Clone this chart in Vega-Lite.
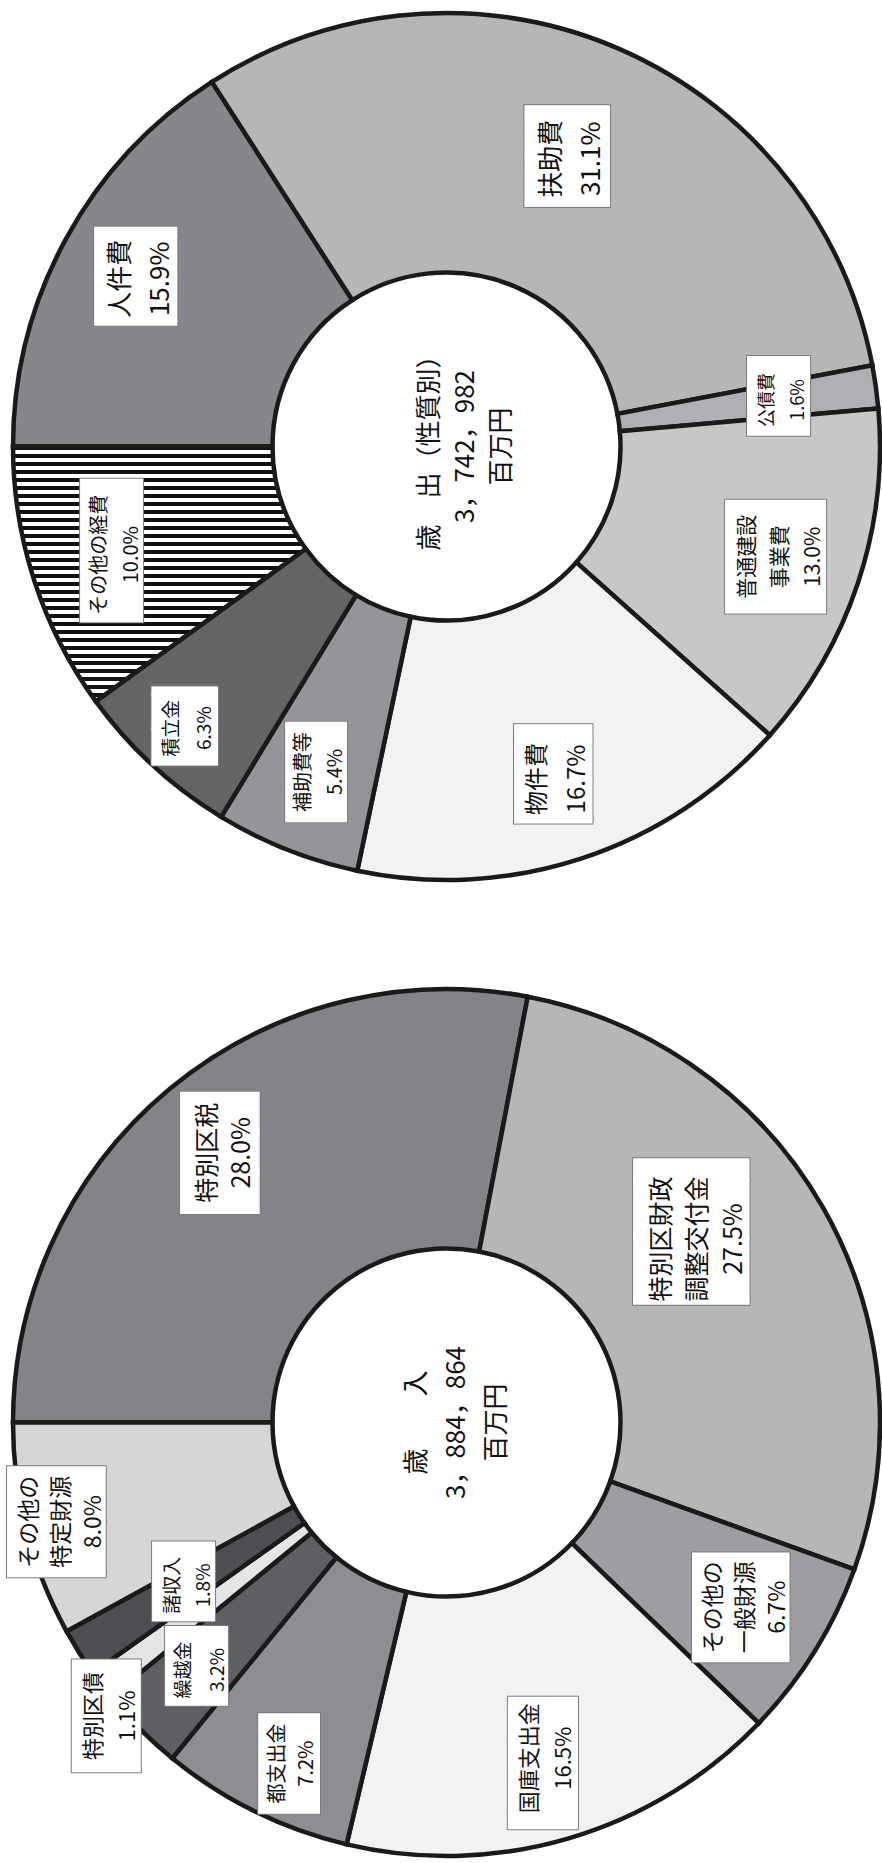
{
  "$schema": "https://vega.github.io/schema/vega-lite/v6.json",
  "padding": {"left": 3.5, "top": 3.5, "right": 0, "bottom": 0},
  "spacing": 104,
  "bounds": "flush",
  "config": {"view": {"stroke": null}},
  "resolve": {"scale": {"fill": "independent", "theta": "independent"}},
  "vconcat": [
    {
      "width": 872,
      "height": 872,
      "data": {"values": [
        {"n": 1, "item": "人件費", "pct": 15.9, "label": "人件費\n15.9%"},
        {"n": 2, "item": "扶助費", "pct": 31.1, "label": "扶助費\n31.1%"},
        {"n": 3, "item": "公債費", "pct": 1.6, "label": "公債費\n1.6%"},
        {"n": 4, "item": "普通建設事業費", "pct": 13.0, "label": "普通建設\n事業費\n13.0%"},
        {"n": 5, "item": "物件費", "pct": 16.7, "label": "物件費\n16.7%"},
        {"n": 6, "item": "補助費等", "pct": 5.4, "label": "補助費等\n5.4%"},
        {"n": 7, "item": "積立金", "pct": 6.3, "label": "積立金\n6.3%"},
        {"n": 8, "item": "その他の経費", "pct": 10.0, "label": "その他の経費\n10.0%"}
      ]},
      "layer": [
        {
          "encoding": {
            "theta": {"field": "pct", "type": "quantitative", "stack": true, "scale": {"range": [4.71238898, 10.99557429]}},
            "order": {"field": "n", "type": "quantitative"},
            "detail": {"field": "item", "type": "nominal"}
          },
          "layer": [
            {
              "mark": {"type": "arc", "radius": 433.5, "innerRadius": 174, "stroke": "#1a1a1a", "strokeWidth": 4.5},
              "encoding": {
                "fill": {
                  "condition": {"test": "datum.item === 'その他の経費'", "value": {"gradient": "linear", "x1": 0, "y1": 0, "x2": 0, "y2": 1, "stops": [
                    {"offset": 0, "color": "#111111"}, {"offset": 0.015625, "color": "#111111"}, {"offset": 0.015625, "color": "#ffffff"}, {"offset": 0.03125, "color": "#ffffff"},
                    {"offset": 0.03125, "color": "#111111"}, {"offset": 0.046875, "color": "#111111"}, {"offset": 0.046875, "color": "#ffffff"}, {"offset": 0.0625, "color": "#ffffff"},
                    {"offset": 0.0625, "color": "#111111"}, {"offset": 0.078125, "color": "#111111"}, {"offset": 0.078125, "color": "#ffffff"}, {"offset": 0.09375, "color": "#ffffff"},
                    {"offset": 0.09375, "color": "#111111"}, {"offset": 0.109375, "color": "#111111"}, {"offset": 0.109375, "color": "#ffffff"}, {"offset": 0.125, "color": "#ffffff"},
                    {"offset": 0.125, "color": "#111111"}, {"offset": 0.140625, "color": "#111111"}, {"offset": 0.140625, "color": "#ffffff"}, {"offset": 0.15625, "color": "#ffffff"},
                    {"offset": 0.15625, "color": "#111111"}, {"offset": 0.171875, "color": "#111111"}, {"offset": 0.171875, "color": "#ffffff"}, {"offset": 0.1875, "color": "#ffffff"},
                    {"offset": 0.1875, "color": "#111111"}, {"offset": 0.203125, "color": "#111111"}, {"offset": 0.203125, "color": "#ffffff"}, {"offset": 0.21875, "color": "#ffffff"},
                    {"offset": 0.21875, "color": "#111111"}, {"offset": 0.234375, "color": "#111111"}, {"offset": 0.234375, "color": "#ffffff"}, {"offset": 0.25, "color": "#ffffff"},
                    {"offset": 0.25, "color": "#111111"}, {"offset": 0.265625, "color": "#111111"}, {"offset": 0.265625, "color": "#ffffff"}, {"offset": 0.28125, "color": "#ffffff"},
                    {"offset": 0.28125, "color": "#111111"}, {"offset": 0.296875, "color": "#111111"}, {"offset": 0.296875, "color": "#ffffff"}, {"offset": 0.3125, "color": "#ffffff"},
                    {"offset": 0.3125, "color": "#111111"}, {"offset": 0.328125, "color": "#111111"}, {"offset": 0.328125, "color": "#ffffff"}, {"offset": 0.34375, "color": "#ffffff"},
                    {"offset": 0.34375, "color": "#111111"}, {"offset": 0.359375, "color": "#111111"}, {"offset": 0.359375, "color": "#ffffff"}, {"offset": 0.375, "color": "#ffffff"},
                    {"offset": 0.375, "color": "#111111"}, {"offset": 0.390625, "color": "#111111"}, {"offset": 0.390625, "color": "#ffffff"}, {"offset": 0.40625, "color": "#ffffff"},
                    {"offset": 0.40625, "color": "#111111"}, {"offset": 0.421875, "color": "#111111"}, {"offset": 0.421875, "color": "#ffffff"}, {"offset": 0.4375, "color": "#ffffff"},
                    {"offset": 0.4375, "color": "#111111"}, {"offset": 0.453125, "color": "#111111"}, {"offset": 0.453125, "color": "#ffffff"}, {"offset": 0.46875, "color": "#ffffff"},
                    {"offset": 0.46875, "color": "#111111"}, {"offset": 0.484375, "color": "#111111"}, {"offset": 0.484375, "color": "#ffffff"}, {"offset": 0.5, "color": "#ffffff"},
                    {"offset": 0.5, "color": "#111111"}, {"offset": 0.515625, "color": "#111111"}, {"offset": 0.515625, "color": "#ffffff"}, {"offset": 0.53125, "color": "#ffffff"},
                    {"offset": 0.53125, "color": "#111111"}, {"offset": 0.546875, "color": "#111111"}, {"offset": 0.546875, "color": "#ffffff"}, {"offset": 0.5625, "color": "#ffffff"},
                    {"offset": 0.5625, "color": "#111111"}, {"offset": 0.578125, "color": "#111111"}, {"offset": 0.578125, "color": "#ffffff"}, {"offset": 0.59375, "color": "#ffffff"},
                    {"offset": 0.59375, "color": "#111111"}, {"offset": 0.609375, "color": "#111111"}, {"offset": 0.609375, "color": "#ffffff"}, {"offset": 0.625, "color": "#ffffff"},
                    {"offset": 0.625, "color": "#111111"}, {"offset": 0.640625, "color": "#111111"}, {"offset": 0.640625, "color": "#ffffff"}, {"offset": 0.65625, "color": "#ffffff"},
                    {"offset": 0.65625, "color": "#111111"}, {"offset": 0.671875, "color": "#111111"}, {"offset": 0.671875, "color": "#ffffff"}, {"offset": 0.6875, "color": "#ffffff"},
                    {"offset": 0.6875, "color": "#111111"}, {"offset": 0.703125, "color": "#111111"}, {"offset": 0.703125, "color": "#ffffff"}, {"offset": 0.71875, "color": "#ffffff"},
                    {"offset": 0.71875, "color": "#111111"}, {"offset": 0.734375, "color": "#111111"}, {"offset": 0.734375, "color": "#ffffff"}, {"offset": 0.75, "color": "#ffffff"},
                    {"offset": 0.75, "color": "#111111"}, {"offset": 0.765625, "color": "#111111"}, {"offset": 0.765625, "color": "#ffffff"}, {"offset": 0.78125, "color": "#ffffff"},
                    {"offset": 0.78125, "color": "#111111"}, {"offset": 0.796875, "color": "#111111"}, {"offset": 0.796875, "color": "#ffffff"}, {"offset": 0.8125, "color": "#ffffff"},
                    {"offset": 0.8125, "color": "#111111"}, {"offset": 0.828125, "color": "#111111"}, {"offset": 0.828125, "color": "#ffffff"}, {"offset": 0.84375, "color": "#ffffff"},
                    {"offset": 0.84375, "color": "#111111"}, {"offset": 0.859375, "color": "#111111"}, {"offset": 0.859375, "color": "#ffffff"}, {"offset": 0.875, "color": "#ffffff"},
                    {"offset": 0.875, "color": "#111111"}, {"offset": 0.890625, "color": "#111111"}, {"offset": 0.890625, "color": "#ffffff"}, {"offset": 0.90625, "color": "#ffffff"},
                    {"offset": 0.90625, "color": "#111111"}, {"offset": 0.921875, "color": "#111111"}, {"offset": 0.921875, "color": "#ffffff"}, {"offset": 0.9375, "color": "#ffffff"},
                    {"offset": 0.9375, "color": "#111111"}, {"offset": 0.953125, "color": "#111111"}, {"offset": 0.953125, "color": "#ffffff"}, {"offset": 0.96875, "color": "#ffffff"},
                    {"offset": 0.96875, "color": "#111111"}, {"offset": 0.984375, "color": "#111111"}, {"offset": 0.984375, "color": "#ffffff"}, {"offset": 1, "color": "#ffffff"}
                  ]}},
                  "field": "item", "type": "nominal", "legend": null,
                  "scale": {
                    "domain": ["人件費", "扶助費", "公債費", "普通建設事業費", "物件費", "補助費等", "積立金", "その他の経費"],
                    "range": ["#85878a", "#b6b6b6", "#aeb0b3", "#c6c7c9", "#f2f2f2", "#939598", "#646567", "#888888"]
                  }
                }
              }
            },
            {
              "mark": {"type": "text", "font": "DejaVu Sans Mono", "radius": 313, "angle": 270, "align": "center", "baseline": "middle", "fill": "#7a7a7a", "stroke": "#7a7a7a", "strokeWidth": 2},
              "encoding": {"text": {"condition": {"test": "datum.item === '扶助費'", "value": "▕██▎"}, "value": ""}, "size": {"condition": {"test": "datum.item === '扶助費'", "value": 72}, "value": 0}}
            },
            {
              "mark": {"type": "text", "font": "DejaVu Sans Mono", "radius": 313, "angle": 270, "align": "center", "baseline": "middle", "fill": "#ffffff"},
              "encoding": {"text": {"condition": {"test": "datum.item === '扶助費'", "value": "▕██▎"}, "value": ""}, "size": {"condition": {"test": "datum.item === '扶助費'", "value": 72}, "value": 0}}
            },
            {
              "mark": {"type": "text", "font": "Noto Sans CJK JP", "radius": 313, "angle": 270, "align": "center", "baseline": "middle", "lineBreak": "\n", "lineHeight": 40, "dy": -18, "fill": "#111111"},
              "encoding": {"text": {"condition": {"test": "datum.item === '扶助費'", "field": "label", "type": "nominal"}, "value": ""}, "size": {"condition": {"test": "datum.item === '扶助費'", "value": 26}, "value": 0}}
            },
            {
              "mark": {"type": "text", "font": "DejaVu Sans Mono", "radius": 350, "angle": 270, "align": "center", "baseline": "middle", "fill": "#7a7a7a", "stroke": "#7a7a7a", "strokeWidth": 2},
              "encoding": {
                "text": {"condition": [
                  {"test": "datum.item === '人件費'", "value": "▕██▎"},
                  {"test": "datum.item === '普通建設事業費'", "value": "▕██▏"},
                  {"test": "datum.item === '物件費'", "value": "▕██▍"},
                  {"test": "datum.item === '補助費等'", "value": "▕███▏"},
                  {"test": "datum.item === 'その他の経費'", "value": "▕████▍"}
                ], "value": ""},
                "size": {"condition": [
                  {"test": "datum.item === '人件費'", "value": 70},
                  {"test": "datum.item === '普通建設事業費'", "value": 85},
                  {"test": "datum.item === '物件費'", "value": 66},
                  {"test": "datum.item === '補助費等'", "value": 52},
                  {"test": "datum.item === 'その他の経費'", "value": 53}
                ], "value": 0}
              }
            },
            {
              "mark": {"type": "text", "font": "DejaVu Sans Mono", "radius": 350, "angle": 270, "align": "center", "baseline": "middle", "fill": "#ffffff"},
              "encoding": {
                "text": {"condition": [
                  {"test": "datum.item === '人件費'", "value": "▕██▎"},
                  {"test": "datum.item === '普通建設事業費'", "value": "▕██▏"},
                  {"test": "datum.item === '物件費'", "value": "▕██▍"},
                  {"test": "datum.item === '補助費等'", "value": "▕███▏"},
                  {"test": "datum.item === 'その他の経費'", "value": "▕████▍"}
                ], "value": ""},
                "size": {"condition": [
                  {"test": "datum.item === '人件費'", "value": 70},
                  {"test": "datum.item === '普通建設事業費'", "value": 85},
                  {"test": "datum.item === '物件費'", "value": 66},
                  {"test": "datum.item === '補助費等'", "value": 52},
                  {"test": "datum.item === 'その他の経費'", "value": 53}
                ], "value": 0}
              }
            },
            {
              "mark": {"type": "text", "font": "Noto Sans CJK JP", "radius": 350, "angle": 270, "align": "center", "baseline": "middle", "lineBreak": "\n", "lineHeight": 40, "dy": -18, "fill": "#111111"},
              "encoding": {
                "text": {"condition": {"test": "indexof(['人件費', '物件費'], datum.item) >= 0", "field": "label", "type": "nominal"}, "value": ""},
                "size": {"condition": [
                  {"test": "datum.item === '人件費'", "value": 26},
                  {"test": "datum.item === '物件費'", "value": 24}
                ], "value": 0}
              }
            },
            {
              "mark": {"type": "text", "font": "Noto Sans CJK JP", "radius": 350, "angle": 270, "align": "center", "baseline": "middle", "lineBreak": "\n", "lineHeight": 32, "dy": -14, "fill": "#111111"},
              "encoding": {
                "text": {"condition": {"test": "indexof(['補助費等', 'その他の経費'], datum.item) >= 0", "field": "label", "type": "nominal"}, "value": ""},
                "size": {"condition": [
                  {"test": "datum.item === '補助費等'", "value": 20},
                  {"test": "datum.item === 'その他の経費'", "value": 20}
                ], "value": 0}
              }
            },
            {
              "mark": {"type": "text", "font": "Noto Sans CJK JP", "radius": 350, "angle": 270, "align": "center", "baseline": "middle", "lineBreak": "\n", "lineHeight": 33, "dy": -31, "fill": "#111111"},
              "encoding": {
                "text": {"condition": {"test": "datum.item === '普通建設事業費'", "field": "label", "type": "nominal"}, "value": ""},
                "size": {"condition": {"test": "datum.item === '普通建設事業費'", "value": 21}, "value": 0}
              }
            },
            {
              "mark": {"type": "text", "font": "DejaVu Sans Mono", "radius": 338, "angle": 270, "align": "center", "baseline": "middle", "fill": "#7a7a7a", "stroke": "#7a7a7a", "strokeWidth": 2},
              "encoding": {"text": {"condition": {"test": "datum.item === '公債費'", "value": "▕██▍"}, "value": ""}, "size": {"condition": {"test": "datum.item === '公債費'", "value": 53}, "value": 0}}
            },
            {
              "mark": {"type": "text", "font": "DejaVu Sans Mono", "radius": 338, "angle": 270, "align": "center", "baseline": "middle", "fill": "#ffffff"},
              "encoding": {"text": {"condition": {"test": "datum.item === '公債費'", "value": "▕██▍"}, "value": ""}, "size": {"condition": {"test": "datum.item === '公債費'", "value": 53}, "value": 0}}
            },
            {
              "mark": {"type": "text", "font": "Noto Sans CJK JP", "radius": 338, "angle": 270, "align": "center", "baseline": "middle", "lineBreak": "\n", "lineHeight": 31, "dy": -13.5, "fill": "#111111"},
              "encoding": {"text": {"condition": {"test": "datum.item === '公債費'", "field": "label", "type": "nominal"}, "value": ""}, "size": {"condition": {"test": "datum.item === '公債費'", "value": 18}, "value": 0}}
            },
            {
              "mark": {"type": "text", "font": "DejaVu Sans Mono", "radius": 383, "angle": 270, "align": "center", "baseline": "middle", "fill": "#7a7a7a", "stroke": "#7a7a7a", "strokeWidth": 2},
              "encoding": {"text": {"condition": {"test": "datum.item === '積立金'", "value": "▕██▎"}, "value": ""}, "size": {"condition": {"test": "datum.item === '積立金'", "value": 56}, "value": 0}}
            },
            {
              "mark": {"type": "text", "font": "DejaVu Sans Mono", "radius": 383, "angle": 270, "align": "center", "baseline": "middle", "fill": "#ffffff"},
              "encoding": {"text": {"condition": {"test": "datum.item === '積立金'", "value": "▕██▎"}, "value": ""}, "size": {"condition": {"test": "datum.item === '積立金'", "value": 56}, "value": 0}}
            },
            {
              "mark": {"type": "text", "font": "Noto Sans CJK JP", "radius": 383, "angle": 270, "align": "center", "baseline": "middle", "lineBreak": "\n", "lineHeight": 33, "dy": -14.5, "fill": "#111111"},
              "encoding": {"text": {"condition": {"test": "datum.item === '積立金'", "field": "label", "type": "nominal"}, "value": ""}, "size": {"condition": {"test": "datum.item === '積立金'", "value": 19}, "value": 0}}
            }
          ]
        },
        {
          "data": {"values": [{"t": "歳　出（性質別）\n3，742，982\n百万円"}]},
          "mark": {"type": "text", "font": "Noto Sans CJK JP", "angle": 270, "align": "center", "baseline": "middle", "lineBreak": "\n", "lineHeight": 36, "fontSize": 26, "dy": -17, "fill": "#111111"},
          "encoding": {"text": {"field": "t", "type": "nominal"}}
        }
      ]
    },
    {
      "width": 872,
      "height": 872,
      "data": {"values": [
        {"n": 1, "item": "特別区税", "pct": 28.0, "label": "特別区税\n28.0%"},
        {"n": 2, "item": "特別区財政調整交付金", "pct": 27.5, "label": "特別区財政\n調整交付金\n27.5%"},
        {"n": 3, "item": "その他の一般財源", "pct": 6.7, "label": "その他の\n一般財源\n6.7%"},
        {"n": 4, "item": "国庫支出金", "pct": 16.5, "label": "国庫支出金\n16.5%"},
        {"n": 5, "item": "都支出金", "pct": 7.2, "label": "都支出金\n7.2%"},
        {"n": 6, "item": "繰越金", "pct": 3.2, "label": "繰越金\n3.2%"},
        {"n": 7, "item": "特別区債", "pct": 1.1, "label": "特別区債\n1.1%"},
        {"n": 8, "item": "諸収入", "pct": 1.8, "label": "諸収入\n1.8%"},
        {"n": 9, "item": "その他の特定財源", "pct": 8.0, "label": "その他の\n特定財源\n8.0%"}
      ]},
      "layer": [
        {
          "encoding": {
            "theta": {"field": "pct", "type": "quantitative", "stack": true, "scale": {"range": [4.71238898, 10.99557429]}},
            "order": {"field": "n", "type": "quantitative"},
            "detail": {"field": "item", "type": "nominal"}
          },
          "layer": [
            {
              "mark": {"type": "arc", "radius": 433.5, "innerRadius": 174, "stroke": "#1a1a1a", "strokeWidth": 4.5},
              "encoding": {
                "fill": {
                  "field": "item", "type": "nominal", "legend": null,
                  "scale": {
                    "domain": ["特別区税", "特別区財政調整交付金", "その他の一般財源", "国庫支出金", "都支出金", "繰越金", "特別区債", "諸収入", "その他の特定財源"],
                    "range": ["#828487", "#b6b6b6", "#9c9ea1", "#f2f2f2", "#8c8e91", "#5e5f62", "#e4e5e6", "#4e4f52", "#d5d6d8"]
                  }
                }
              }
            },
            {
              "mark": {"type": "text", "font": "DejaVu Sans Mono", "radius": 310, "thetaOffset": -0.115, "angle": 270, "align": "center", "baseline": "middle", "fill": "#7a7a7a", "stroke": "#7a7a7a", "strokeWidth": 2},
              "encoding": {"text": {"condition": {"test": "datum.item === '特別区財政調整交付金'", "value": "▕██▍"}, "value": ""}, "size": {"condition": {"test": "datum.item === '特別区財政調整交付金'", "value": 98}, "value": 0}}
            },
            {
              "mark": {"type": "text", "font": "DejaVu Sans Mono", "radius": 310, "thetaOffset": -0.115, "angle": 270, "align": "center", "baseline": "middle", "fill": "#ffffff"},
              "encoding": {"text": {"condition": {"test": "datum.item === '特別区財政調整交付金'", "value": "▕██▍"}, "value": ""}, "size": {"condition": {"test": "datum.item === '特別区財政調整交付金'", "value": 98}, "value": 0}}
            },
            {
              "mark": {"type": "text", "font": "Noto Sans CJK JP", "radius": 310, "thetaOffset": -0.115, "angle": 270, "align": "center", "baseline": "middle", "lineBreak": "\n", "lineHeight": 36, "dy": -34, "fill": "#111111"},
              "encoding": {"text": {"condition": {"test": "datum.item === '特別区財政調整交付金'", "field": "label", "type": "nominal"}, "value": ""}, "size": {"condition": {"test": "datum.item === '特別区財政調整交付金'", "value": 25}, "value": 0}}
            },
            {
              "mark": {"type": "text", "font": "DejaVu Sans Mono", "radius": 350, "angle": 270, "align": "center", "baseline": "middle", "fill": "#7a7a7a", "stroke": "#7a7a7a", "strokeWidth": 2},
              "encoding": {
                "text": {"condition": [
                  {"test": "datum.item === '特別区税'", "value": "███"},
                  {"test": "datum.item === 'その他の一般財源'", "value": "▕██▏"},
                  {"test": "datum.item === '国庫支出金'", "value": "▐███▎"},
                  {"test": "datum.item === '繰越金'", "value": "▕██▍"}
                ], "value": ""},
                "size": {"condition": [
                  {"test": "datum.item === '特別区税'", "value": 67},
                  {"test": "datum.item === 'その他の一般財源'", "value": 82},
                  {"test": "datum.item === '国庫支出金'", "value": 59},
                  {"test": "datum.item === '繰越金'", "value": 53}
                ], "value": 0}
              }
            },
            {
              "mark": {"type": "text", "font": "DejaVu Sans Mono", "radius": 350, "angle": 270, "align": "center", "baseline": "middle", "fill": "#ffffff"},
              "encoding": {
                "text": {"condition": [
                  {"test": "datum.item === '特別区税'", "value": "███"},
                  {"test": "datum.item === 'その他の一般財源'", "value": "▕██▏"},
                  {"test": "datum.item === '国庫支出金'", "value": "▐███▎"},
                  {"test": "datum.item === '繰越金'", "value": "▕██▍"}
                ], "value": ""},
                "size": {"condition": [
                  {"test": "datum.item === '特別区税'", "value": 67},
                  {"test": "datum.item === 'その他の一般財源'", "value": 82},
                  {"test": "datum.item === '国庫支出金'", "value": 59},
                  {"test": "datum.item === '繰越金'", "value": 53}
                ], "value": 0}
              }
            },
            {
              "mark": {"type": "text", "font": "Noto Sans CJK JP", "radius": 350, "angle": 270, "align": "center", "baseline": "middle", "lineBreak": "\n", "lineHeight": 34, "dy": -15, "fill": "#111111"},
              "encoding": {
                "text": {"condition": {"test": "indexof(['特別区税', '国庫支出金', '繰越金'], datum.item) >= 0", "field": "label", "type": "nominal"}, "value": ""},
                "size": {"condition": [
                  {"test": "datum.item === '特別区税'", "value": 25},
                  {"test": "datum.item === '国庫支出金'", "value": 22},
                  {"test": "datum.item === '繰越金'", "value": 19}
                ], "value": 0}
              }
            },
            {
              "mark": {"type": "text", "font": "Noto Sans CJK JP", "radius": 350, "angle": 270, "align": "center", "baseline": "middle", "lineBreak": "\n", "lineHeight": 32, "dy": -30, "fill": "#111111"},
              "encoding": {
                "text": {"condition": {"test": "datum.item === 'その他の一般財源'", "field": "label", "type": "nominal"}, "value": ""},
                "size": {"condition": {"test": "datum.item === 'その他の一般財源'", "value": 23}, "value": 0}
              }
            },
            {
              "mark": {"type": "text", "font": "DejaVu Sans Mono", "radius": 375, "thetaOffset": -0.03, "angle": 270, "align": "center", "baseline": "middle", "fill": "#7a7a7a", "stroke": "#7a7a7a", "strokeWidth": 2},
              "encoding": {"text": {"condition": {"test": "datum.item === '都支出金'", "value": "▕███▏"}, "value": ""}, "size": {"condition": {"test": "datum.item === '都支出金'", "value": 52}, "value": 0}}
            },
            {
              "mark": {"type": "text", "font": "DejaVu Sans Mono", "radius": 375, "thetaOffset": -0.03, "angle": 270, "align": "center", "baseline": "middle", "fill": "#ffffff"},
              "encoding": {"text": {"condition": {"test": "datum.item === '都支出金'", "value": "▕███▏"}, "value": ""}, "size": {"condition": {"test": "datum.item === '都支出金'", "value": 52}, "value": 0}}
            },
            {
              "mark": {"type": "text", "font": "Noto Sans CJK JP", "radius": 375, "thetaOffset": -0.03, "angle": 270, "align": "center", "baseline": "middle", "lineBreak": "\n", "lineHeight": 29, "dy": -12.5, "fill": "#111111"},
              "encoding": {"text": {"condition": {"test": "datum.item === '都支出金'", "field": "label", "type": "nominal"}, "value": ""}, "size": {"condition": {"test": "datum.item === '都支出金'", "value": 20}, "value": 0}}
            },
            {
              "mark": {"type": "text", "font": "DejaVu Sans Mono", "radius": 447, "thetaOffset": -0.066, "angle": 270, "align": "center", "baseline": "middle", "fill": "#7a7a7a", "stroke": "#7a7a7a", "strokeWidth": 2},
              "encoding": {"text": {"condition": {"test": "datum.item === '特別区債'", "value": "▕███▏"}, "value": ""}, "size": {"condition": {"test": "datum.item === '特別区債'", "value": 58}, "value": 0}}
            },
            {
              "mark": {"type": "text", "font": "DejaVu Sans Mono", "radius": 447, "thetaOffset": -0.066, "angle": 270, "align": "center", "baseline": "middle", "fill": "#ffffff"},
              "encoding": {"text": {"condition": {"test": "datum.item === '特別区債'", "value": "▕███▏"}, "value": ""}, "size": {"condition": {"test": "datum.item === '特別区債'", "value": 58}, "value": 0}}
            },
            {
              "mark": {"type": "text", "font": "Noto Sans CJK JP", "radius": 447, "thetaOffset": -0.066, "angle": 270, "align": "center", "baseline": "middle", "lineBreak": "\n", "lineHeight": 34, "dy": -15, "fill": "#111111"},
              "encoding": {"text": {"condition": {"test": "datum.item === '特別区債'", "field": "label", "type": "nominal"}, "value": ""}, "size": {"condition": {"test": "datum.item === '特別区債'", "value": 22}, "value": 0}}
            },
            {
              "mark": {"type": "text", "font": "DejaVu Sans Mono", "radius": 307, "angle": 270, "align": "center", "baseline": "middle", "fill": "#7a7a7a", "stroke": "#7a7a7a", "strokeWidth": 2},
              "encoding": {"text": {"condition": {"test": "datum.item === '諸収入'", "value": "▕██▍"}, "value": ""}, "size": {"condition": {"test": "datum.item === '諸収入'", "value": 53}, "value": 0}}
            },
            {
              "mark": {"type": "text", "font": "DejaVu Sans Mono", "radius": 307, "angle": 270, "align": "center", "baseline": "middle", "fill": "#ffffff"},
              "encoding": {"text": {"condition": {"test": "datum.item === '諸収入'", "value": "▕██▍"}, "value": ""}, "size": {"condition": {"test": "datum.item === '諸収入'", "value": 53}, "value": 0}}
            },
            {
              "mark": {"type": "text", "font": "Noto Sans CJK JP", "radius": 307, "angle": 270, "align": "center", "baseline": "middle", "lineBreak": "\n", "lineHeight": 31, "dy": -13.5, "fill": "#111111"},
              "encoding": {"text": {"condition": {"test": "datum.item === '諸収入'", "field": "label", "type": "nominal"}, "value": ""}, "size": {"condition": {"test": "datum.item === '諸収入'", "value": 19}, "value": 0}}
            },
            {
              "mark": {"type": "text", "font": "DejaVu Sans Mono", "radius": 399, "angle": 270, "align": "center", "baseline": "middle", "fill": "#7a7a7a", "stroke": "#7a7a7a", "strokeWidth": 2},
              "encoding": {"text": {"condition": {"test": "datum.item === 'その他の特定財源'", "value": "▕██▏"}, "value": ""}, "size": {"condition": {"test": "datum.item === 'その他の特定財源'", "value": 83}, "value": 0}}
            },
            {
              "mark": {"type": "text", "font": "DejaVu Sans Mono", "radius": 399, "angle": 270, "align": "center", "baseline": "middle", "fill": "#ffffff"},
              "encoding": {"text": {"condition": {"test": "datum.item === 'その他の特定財源'", "value": "▕██▏"}, "value": ""}, "size": {"condition": {"test": "datum.item === 'その他の特定財源'", "value": 83}, "value": 0}}
            },
            {
              "mark": {"type": "text", "font": "Noto Sans CJK JP", "radius": 399, "angle": 270, "align": "center", "baseline": "middle", "lineBreak": "\n", "lineHeight": 32, "dy": -30, "fill": "#111111"},
              "encoding": {"text": {"condition": {"test": "datum.item === 'その他の特定財源'", "field": "label", "type": "nominal"}, "value": ""}, "size": {"condition": {"test": "datum.item === 'その他の特定財源'", "value": 23}, "value": 0}}
            }
          ]
        },
        {
          "data": {"values": [{"t": "歳　　入\n3，884，864\n百万円"}]},
          "mark": {"type": "text", "font": "Noto Sans CJK JP", "angle": 270, "align": "center", "baseline": "middle", "lineBreak": "\n", "lineHeight": 40, "fontSize": 26, "dy": -30, "fill": "#111111"},
          "encoding": {"text": {"field": "t", "type": "nominal"}}
        }
      ]
    }
  ]
}
